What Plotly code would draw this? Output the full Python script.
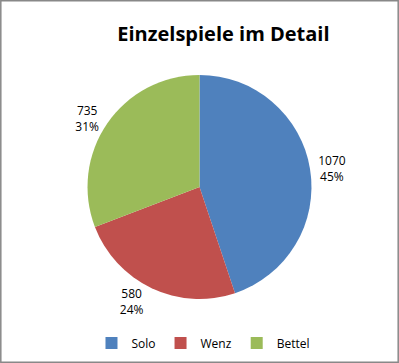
import plotly.graph_objects as go

categories = ["Solo", "Wenz", "Bettel"]
values = [1070, 580, 735]
colors = ["#4F81BD", "#C0504D", "#9BBB59"]

fig = go.Figure(go.Pie(
    labels=categories,
    values=values,
    marker=dict(colors=colors, line=dict(width=0)),
    sort=False,
    direction="clockwise",
    rotation=0,
    textinfo="value+percent",
    texttemplate="%{value}<br>%{percent:.0%}",
    textposition="outside",
    outsidetextfont=dict(color="black", size=12),
    domain=dict(x=[0.2, 0.8], y=[0.1765, 0.7935]),
    hoverinfo="label+value+percent",
))

fig.update_layout(
    width=399, height=363,
    margin=dict(l=0, r=0, t=0, b=0),
    paper_bgcolor="white",
    font=dict(family="Open Sans, Liberation Sans, sans-serif", size=12, color="black"),
    title=dict(text="<b>Einzelspiele im Detail</b>", x=0.56, xanchor="center",
               y=0.905, yanchor="middle", font=dict(size=20, color="black")),
    showlegend=True,
    legend=dict(orientation="h", x=0.51, xanchor="center", y=0.055, yanchor="middle",
                font=dict(size=12), itemwidth=30, tracegroupgap=0),
    shapes=[dict(type="rect", xref="paper", yref="paper", x0=0.002, x1=0.998, y0=0.002, y1=0.998,
                 line=dict(color="#888888", width=1.5))],
)

fig.write_html("out.html", config={"displayModeBar": False},
               post_script="document.body.style.margin='0';document.body.style.overflow='hidden';")
